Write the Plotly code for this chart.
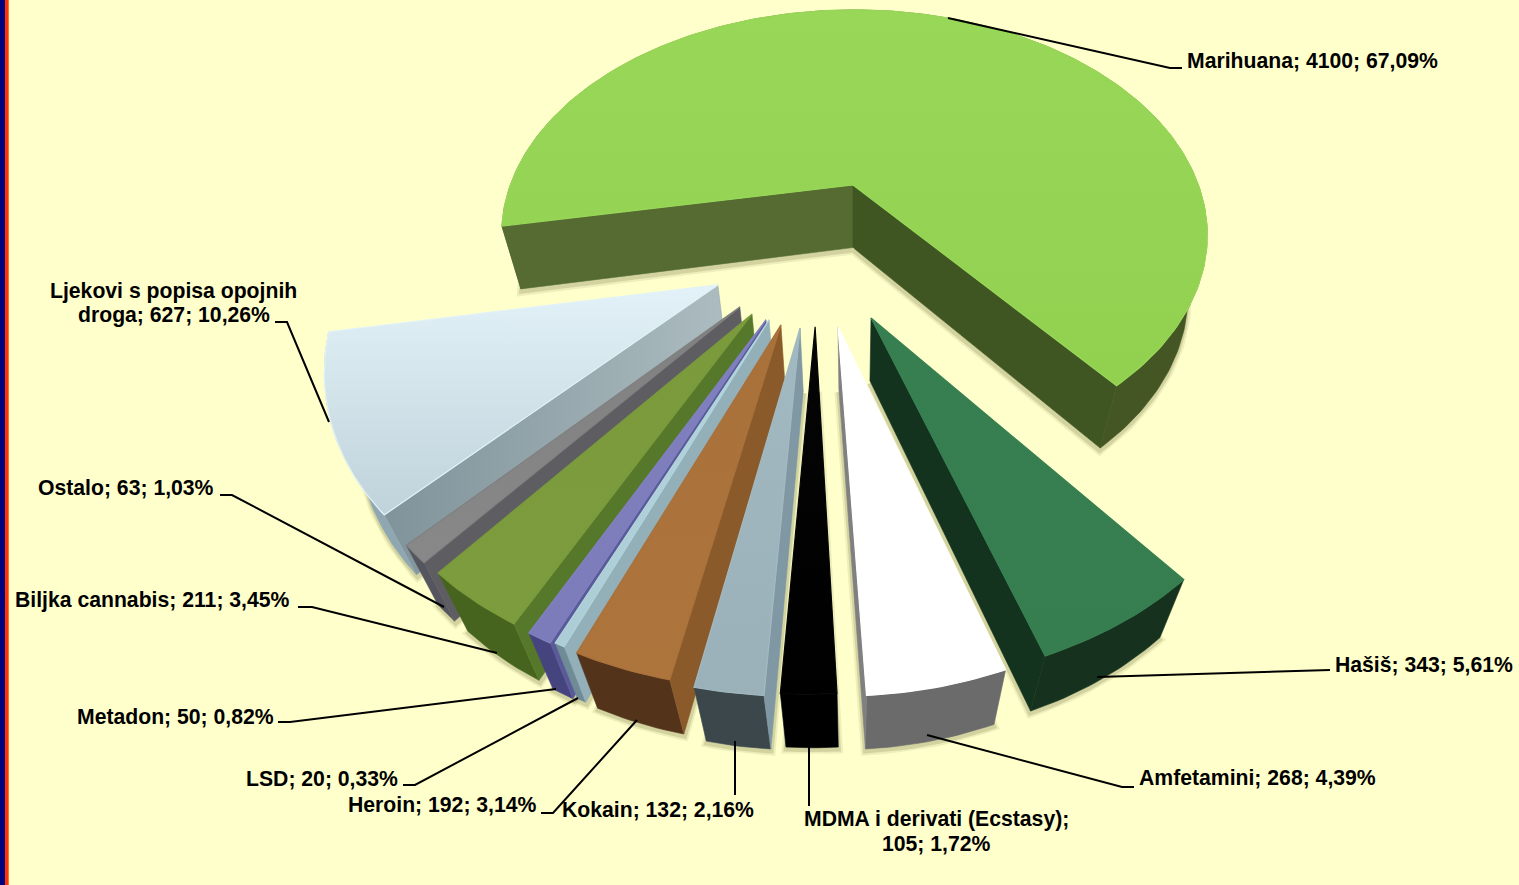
import math
import plotly.graph_objects as go

# ---- data ----
categories = ["Marihuana", "Hašiš", "Amfetamini", "MDMA i derivati (Ecstasy)", "Kokain", "Heroin",
              "LSD", "Metadon", "Biljka cannabis", "Ostalo", "Ljekovi s popisa opojnih droga"]
values = [4100, 343, 268, 105, 132, 192, 20, 50, 211, 63, 627]
percent_labels = ["67,09%", "5,61%", "4,39%", "1,72%", "2,16%", "3,14%", "0,33%", "0,82%", "3,45%", "1,03%", "10,26%"]

# ---- exploded offset of every slice, in pie radii ----
offset_x = [0, .046, -.038, -.096, -.134, -.183, -.214, -.222, -.259, -.292, -.356]
offset_y = [0, -.546, -.578, -.578, -.582, -.571, -.553, -.553, -.532, -.506, -.423]
# small shift of the outer arc against the tip
arc_dx = [.004, .006, .010, .012, .019, .020, .024, .022, .025, .022, .016]
arc_dy = [0, .014, .017, .021, .021, .025, .020, .020, .019, .018, .012]

# ---- styles: top colours (far, near), start wall, end wall, rim wall ----
top_colors = [("#98D758", "#92D050"), ("#377F51", "#367D50"), ("#FFFFFF", "#FFFFFF"), ("#050505", "#000000"),
              ("#A3B9C1", "#9BB1BA"), ("#A9713A", "#AD743C"), ("#B2D4DC", "#ACCDD6"), ("#8080C0", "#7C7CBA"),
              ("#7A9A3C", "#7C9C3E"), ("#808080", "#888888"), ("#E2F2F8", "#C0D2DA")]
wall_start = ["#556B32", "#13331E", "#808080", "#000000", "#7F98A3", "#8A5A2B", "#93AFB8", "#5A5A9A", "#56782A", "#5E5E62", "#96A8AD"]
wall_end = ["#3F5522", "#13331E", "#808080", "#000000", "#7F98A3", "#8A5A2B", "#93AFB8", "#5A5A9A", "#56782A", "#5E5E62", "#96A8AD"]
rim_colors = ["#435623", "#16321E", "#6B6B6B", "#000000", "#3B474B", "#53331A", "#6F8B95", "#45447F", "#47641F", "#55555F", "#8FA7B2"]
draw_order = [0, 10, 9, 8, 7, 6, 5, 1, 2, 4, 3]

# ---- perspective camera of the pie ----
X0, Y0, B, A, C, K, M = 853, 185, 344, 214, 66, .222, .055
START_ANGLE = 190.6


def proj(x, y, z=0.0):
    w = 1 + K * y + M * z
    return X0 + B * x / w, Y0 + (-A * y + C * z) / w


total = sum(values)
angles = []
a = START_ANGLE
for v in values:
    angles.append((a, a - 360 * v / total))
    a -= 360 * v / total


def rim_points(i, z):
    a0, a1 = angles[i]
    n = max(2, int(abs(a0 - a1)) + 2)
    pts = []
    for j in range(n + 1):
        t = math.radians(a0 + (a1 - a0) * j / n)
        pts.append(proj(offset_x[i] + arc_dx[i] + math.cos(t), offset_y[i] + arc_dy[i] + math.sin(t), z))
    return pts


fig = go.Figure()


def poly(pts, color, name, gradient=None, line=None):
    xs = [p[0] for p in pts] + [pts[0][0]]
    ys = [p[1] for p in pts] + [pts[0][1]]
    kw = dict(x=xs, y=ys, mode="lines", fill="toself", name=name, hoverinfo="skip", showlegend=False,
              line=dict(width=line[1], color=line[0]) if line else dict(width=0.6, color=color))
    if gradient:
        kw["fillgradient"] = gradient
    else:
        kw["fillcolor"] = color
    fig.add_trace(go.Scatter(**kw))


# soft shadows under the slices
for i in range(len(values)):
    apex = proj(offset_x[i], offset_y[i], 1.04)
    outline = [apex] + rim_points(i, 1.04)
    xs = [p[0] for p in outline] + [apex[0]]
    ys = [p[1] for p in outline] + [apex[1]]
    for width, alpha in ((9, .10), (5, .18)):
        fig.add_trace(go.Scatter(x=xs, y=ys, mode="lines", hoverinfo="skip", showlegend=False,
                                 line=dict(width=width, color=f"rgba(90,90,40,{alpha})")))


def cross(o, p, q):
    return (p[0] - o[0]) * (q[1] - o[1]) - (p[1] - o[1]) * (q[0] - o[0])


for i in draw_order:
    name = categories[i]
    top_rim = rim_points(i, 0)
    bot_rim = rim_points(i, 1)
    apex_t = proj(offset_x[i], offset_y[i], 0)
    apex_b = proj(offset_x[i], offset_y[i], 1)
    mid = top_rim[len(top_rim) // 2]
    # outer wall
    poly(top_rim + bot_rim[::-1], rim_colors[i], name)
    # radial walls, only those facing the viewer
    for k, colr in ((0, wall_start[i]), (-1, wall_end[i])):
        rt, rb = top_rim[k], bot_rim[k]
        if cross(apex_t, rt, apex_b) * cross(apex_t, rt, mid) < 0:
            grad = None
            if i == 10:
                grad = dict(type="horizontal", colorscale=[[0, "#7F939A"], [1, "#ACBCC0"]])
            poly([apex_t, rt, rb, apex_b], colr, name, gradient=grad)
    # top face (the gradient runs from the screen bottom to the screen top)
    c1, c2 = top_colors[i]
    poly([apex_t] + top_rim, c1, name,
         gradient=dict(type="vertical", colorscale=[[0, c2], [1, c1]]), line=(c1, 1.2))

# ---- labels and leader lines ----
label_text = ["Marihuana; 4100; 67,09%", "Hašiš; 343; 5,61%", "Amfetamini; 268; 4,39%",
              "MDMA i derivati (Ecstasy);", "105; 1,72%", "Kokain; 132; 2,16%", "Heroin; 192; 3,14%",
              "LSD; 20; 0,33%", "Metadon; 50; 0,82%", "Biljka cannabis; 211; 3,45%", "Ostalo; 63; 1,03%",
              "Ljekovi s popisa opojnih", "droga; 627; 10,26%"]
label_x = [1185, 1333, 1137, 936, 936, 560, 346, 244, 75, 13, 36, 173.5, 173.5]
label_y = [60, 664, 777, 819, 843, 809, 804, 778, 716, 600, 487, 291, 315]
label_anchor = ["left"] * 3 + ["center"] * 2 + ["left"] * 6 + ["center"] * 2
leaders = [[(948, 18), (1170, 68), (1182, 68)], [(1097, 677), (1318, 670), (1330, 670)],
           [(927, 735), (1122, 787), (1134, 787)], [(809, 746), (809, 806)], [(735, 741), (735, 795)],
           [(637, 720), (553, 813), (541, 813)], [(578, 698), (415, 785), (403, 785)],
           [(556, 689), (290, 722), (278, 722)], [(497, 653), (312, 607), (298, 607)],
           [(444, 607), (232, 495), (220, 495)], [(329, 422), (287, 322), (275, 322)]]
for pts in leaders:
    fig.add_trace(go.Scatter(x=[p[0] for p in pts], y=[p[1] for p in pts], mode="lines", hoverinfo="skip",
                             showlegend=False, line=dict(color="black", width=2)))
for t, x, y, an in zip(label_text, label_x, label_y, label_anchor):
    fig.add_annotation(x=x, y=y, text=f"<b>{t}</b>", showarrow=False, xanchor=an, yanchor="middle", align="center",
                       font=dict(family="Liberation Sans, Arial", size=21.2, color="black"))

fig.update_layout(
    width=1519, height=885, autosize=False, margin=dict(l=0, r=0, t=0, b=0),
    paper_bgcolor="#FFFFCC", plot_bgcolor="#FFFFCC", showlegend=False,
    xaxis=dict(range=[0, 1519], visible=False, fixedrange=True),
    yaxis=dict(range=[885, 0], visible=False, fixedrange=True),
    shapes=[dict(type="rect", x0=0, x1=5, y0=0, y1=885, fillcolor="#000080", line_width=0, layer="above"),
            dict(type="rect", x0=5, x1=8.7, y0=0, y1=885, fillcolor="#FF3300", line_width=0, layer="above")],
)
fig.write_html("out.html", config=dict(displayModeBar=False), post_script="document.body.style.margin='0';")
